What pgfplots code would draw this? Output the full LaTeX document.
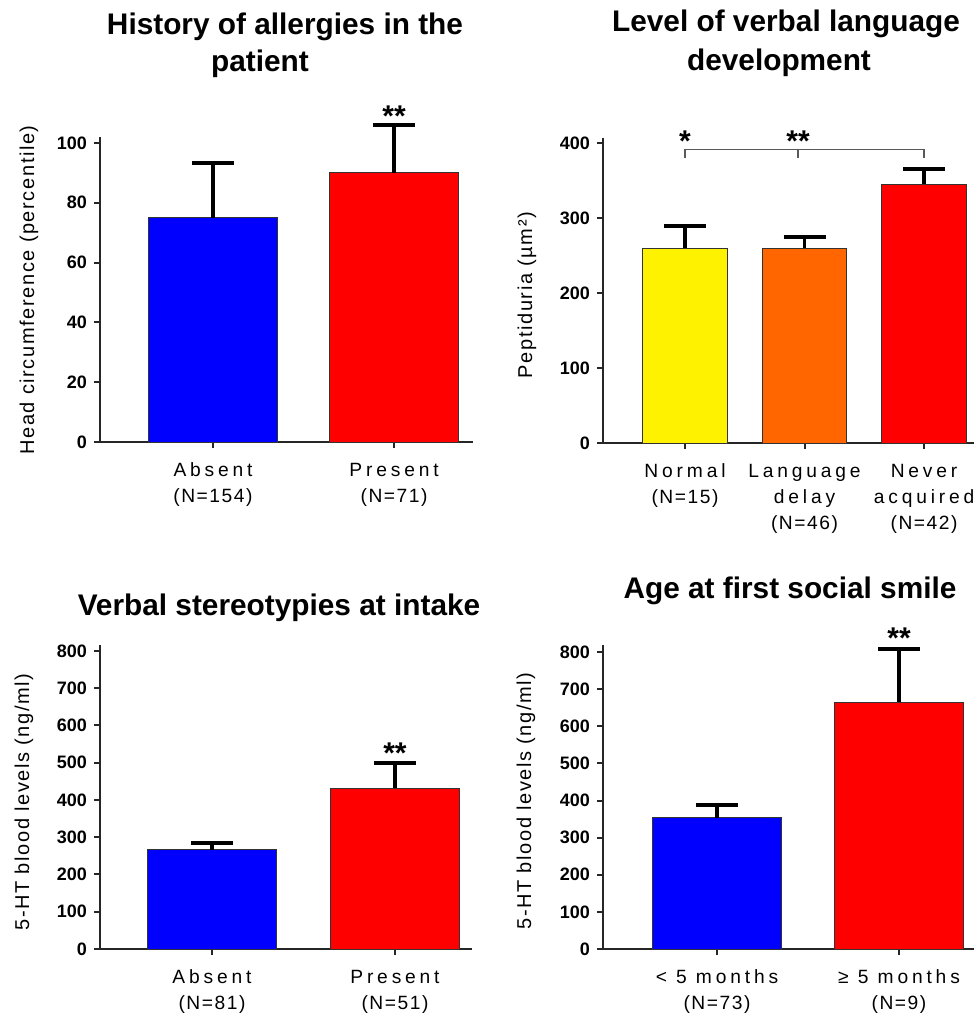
\documentclass[border=0pt]{standalone}
\usepackage{pgfplots}
\pgfplotsset{compat=1.18}
\usepackage{fontspec}
\setmainfont{Liberation Sans}
\newfontfamily\catfont[LetterSpace=20]{Liberation Sans}
\newfontfamily\nfont[LetterSpace=8]{Liberation Sans}
\newfontfamily\labfont[LetterSpace=8]{Liberation Sans}
\definecolor{myorange}{RGB}{255,102,0}
\pgfplotsset{
  panel/.style={
    scale only axis, anchor=south west, clip=false,
    axis x line*=bottom, axis y line*=left,
    axis line style={line width=1pt, draw=black!85, -},
    tick align=outside, major tick length=3pt,
    tick style={line width=1pt, black!85},
    ymin=0, xtick={0,1,2},
    /pgf/number format/assume math mode=true,
    yticklabel style={font=\bfseries\fontsize{9}{10}\selectfont},
    xticklabel style={align=center, font=\fontsize{9.6}{13}\selectfont, yshift=-4pt},
  },
  bar/.style={ybar, bar width=0.71, bar shift=0pt, fill=#1, draw=black!80, line width=0.5pt,
    error bars/.cd, y dir=plus, y explicit, error mark=|,
    error bar style={line width=1.7pt, black},
    error mark options={line width=2pt, mark size=10.5pt, black}},
}
\tikzset{sigstar/.style={anchor=base, font=\bfseries\fontsize{15}{15}\selectfont}}
\begin{document}
\begin{tikzpicture}
\useasboundingbox (0,0) rectangle (487pt,-510pt);
% Panel 1
\begin{axis}[panel, at={(50pt,-221pt)}, width=186.5pt, height=152.5pt,
  xmin=-0.624, xmax=1.436, ymax=102, ytick={0,20,...,100},
  xticklabels={{\catfont Absent\\\nfont (N=154)},{\catfont Present\\\nfont (N=71)}}]
\addplot[bar=blue] coordinates {(0,75) +- (0,18.3)};
\addplot[bar=red] coordinates {(1,90) +- (0,16)};
\node[sigstar] at (axis cs:1,105.4) {**};
\end{axis}
% Panel 2
\begin{axis}[panel, at={(301.5pt,-221.5pt)}, width=185.5pt, height=152.5pt,
  xmin=-0.686, xmax=2.418, ymax=407, ytick={0,100,...,400},
  xticklabels={{\catfont Normal\\\nfont (N=15)},{\catfont Language\\\catfont delay\\\nfont (N=46)},{\catfont Never\\\catfont acquired\\\nfont (N=42)}}]
\addplot[bar=yellow] coordinates {(0,260) +- (0,29)};
\addplot[bar=myorange] coordinates {(1,260) +- (0,15)};
\addplot[bar=red] coordinates {(2,345) +- (0,20)};
\draw[black!65, line width=0.7pt] (axis cs:0,380) -- (axis cs:0,392) -- (axis cs:2,392) -- (axis cs:2,380);
\draw[black!65, line width=0.7pt] (axis cs:0.946,392) -- (axis cs:0.946,380);
\node[sigstar] at (axis cs:0,389) {*};
\node[sigstar] at (axis cs:0.946,389) {**};
\end{axis}
% Panel 3
\begin{axis}[panel, at={(50pt,-474.5pt)}, width=186pt, height=152pt,
  xmin=-0.612, xmax=1.421, ymax=816, ytick={0,100,...,800},
  xticklabels={{\catfont Absent\\\nfont (N=81)},{\catfont Present\\\nfont (N=51)}}]
\addplot[bar=blue] coordinates {(0,266) +- (0,19)};
\addplot[bar=red] coordinates {(1,432) +- (0,67)};
\node[sigstar] at (axis cs:1,497) {**};
\end{axis}
% Panel 4
\begin{axis}[panel, at={(301.5pt,-474.5pt)}, width=185.5pt, height=152pt,
  xmin=-0.626, xmax=1.412, ymax=819, ytick={0,100,...,800},
  xticklabels={{\catfont < 5 months\\\nfont (N=73)},{\catfont ≥ 5 months\\\nfont (N=9)}}]
\addplot[bar=blue] coordinates {(0,353) +- (0,35)};
\addplot[bar=red] coordinates {(1,665) +- (0,143)};
\node[sigstar] at (axis cs:1,809) {**};
\end{axis}
% Titles
\begin{scope}[every node/.style={anchor=base, font=\bfseries\fontsize{14.9}{16}\selectfont}]
\node at (142.5pt,-17.5pt) {History of allergies in the};
\node at (130pt,-36pt) {patient};
\node at (393pt,-16pt) {Level of verbal language};
\node at (389.5pt,-35.5pt) {development};
\node at (139.5pt,-307.5pt) {Verbal stereotypies at intake};
\node at (395pt,-299pt) {Age at first social smile};
\end{scope}
% Y labels
\begin{scope}[every node/.style={rotate=90, anchor=center, font=\labfont\fontsize{10}{12}\selectfont}]
\node at (14.5pt,-145pt) {Head circumference (percentile)};
\node at (263.5pt,-147.5pt) {Peptiduria (µm²)};
\node at (12pt,-401pt) {5-HT blood levels (ng/ml)};
\node at (263pt,-400.5pt) {5-HT blood levels (ng/ml)};
\end{scope}
\end{tikzpicture}
\end{document}
